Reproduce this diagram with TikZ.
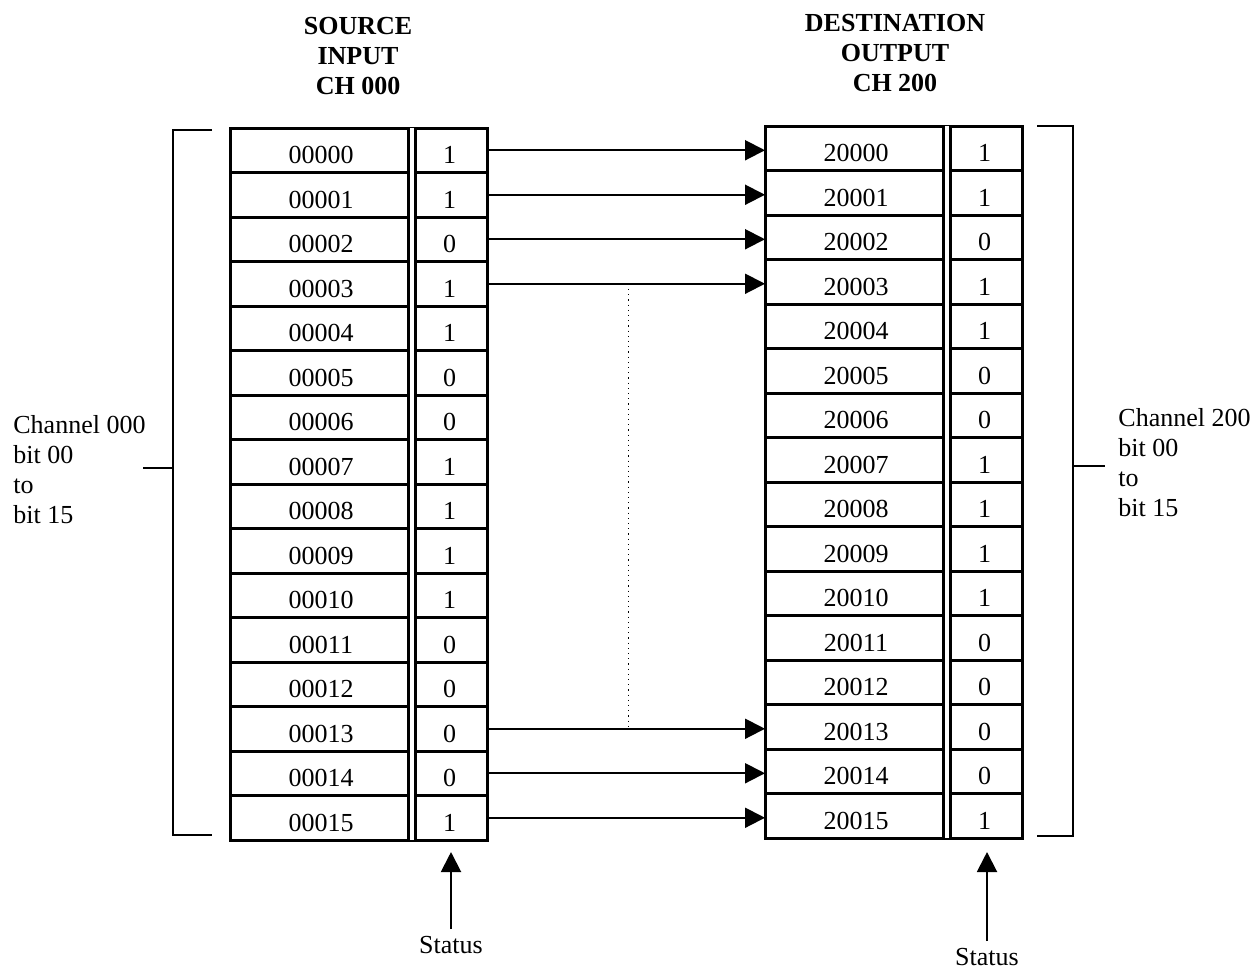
\documentclass[tikz,border=0pt]{standalone}
\usepackage{fontspec}
\setmainfont{Liberation Serif}
\usetikzlibrary{arrows.meta,calc}
\tikzset{
    >={Triangle[length=10pt,width=10pt]},
    addr/.style={rectangle, draw, line width=1.5pt, inner sep=0pt, outer sep=0pt, text height=13.5pt, text depth=0pt, minimum width=91pt, minimum height=22.25pt},
    bitcell/.style={rectangle, draw, line width=1.5pt, inner sep=0pt, outer sep=0pt, text height=13.5pt, text depth=0pt, minimum width=37.5pt, minimum height=22.25pt},
    sep/.style={double, line width=1.3pt, double distance=2.3pt},
    link/.style={->, line width=1pt},
    brace/.style={line width=0.8pt},
    title/.style={align=center, inner sep=0pt, font=\bfseries\fontsize{13}{15.2}\selectfont},
    side/.style={align=left, anchor=west, inner sep=0pt, font=\fontsize{13}{15}\selectfont}
}

\begin{document}
\begin{tikzpicture}[x=0.5pt, y=-0.5pt, font=\fontsize{13}{15.6}\selectfont]
    \useasboundingbox (0,0) rectangle (1251,971);

    % source channel 000
    \node[title] (srctitle) at (358,56) {SOURCE\\INPUT\\CH 000};
    \node[addr] (in00) at (321,150.25) {00000}; \node[bitcell] (ib00) at (449.5,150.25) {1};
    \node[addr] (in01) at (321,194.75) {00001}; \node[bitcell] (ib01) at (449.5,194.75) {1};
    \node[addr] (in02) at (321,239.25) {00002}; \node[bitcell] (ib02) at (449.5,239.25) {0};
    \node[addr] (in03) at (321,283.75) {00003}; \node[bitcell] (ib03) at (449.5,283.75) {1};
    \node[addr] (in04) at (321,328.25) {00004}; \node[bitcell] (ib04) at (449.5,328.25) {1};
    \node[addr] (in05) at (321,372.75) {00005}; \node[bitcell] (ib05) at (449.5,372.75) {0};
    \node[addr] (in06) at (321,417.25) {00006}; \node[bitcell] (ib06) at (449.5,417.25) {0};
    \node[addr] (in07) at (321,461.75) {00007}; \node[bitcell] (ib07) at (449.5,461.75) {1};
    \node[addr] (in08) at (321,506.25) {00008}; \node[bitcell] (ib08) at (449.5,506.25) {1};
    \node[addr] (in09) at (321,550.75) {00009}; \node[bitcell] (ib09) at (449.5,550.75) {1};
    \node[addr] (in10) at (321,595.25) {00010}; \node[bitcell] (ib10) at (449.5,595.25) {1};
    \node[addr] (in11) at (321,639.75) {00011}; \node[bitcell] (ib11) at (449.5,639.75) {0};
    \node[addr] (in12) at (321,684.25) {00012}; \node[bitcell] (ib12) at (449.5,684.25) {0};
    \node[addr] (in13) at (321,728.75) {00013}; \node[bitcell] (ib13) at (449.5,728.75) {0};
    \node[addr] (in14) at (321,773.25) {00014}; \node[bitcell] (ib14) at (449.5,773.25) {0};
    \node[addr] (in15) at (321,817.75) {00015}; \node[bitcell] (ib15) at (449.5,817.75) {1};
    \draw[sep] (in00.north east) -- (in15.south east);

    % destination channel 200
    \node[title] (dsttitle) at (895,53) {DESTINATION\\OUTPUT\\CH 200};
    \node[addr] (out00) at (856,148.25) {20000}; \node[bitcell] (ob00) at (984.5,148.25) {1};
    \node[addr] (out01) at (856,192.75) {20001}; \node[bitcell] (ob01) at (984.5,192.75) {1};
    \node[addr] (out02) at (856,237.25) {20002}; \node[bitcell] (ob02) at (984.5,237.25) {0};
    \node[addr] (out03) at (856,281.75) {20003}; \node[bitcell] (ob03) at (984.5,281.75) {1};
    \node[addr] (out04) at (856,326.25) {20004}; \node[bitcell] (ob04) at (984.5,326.25) {1};
    \node[addr] (out05) at (856,370.75) {20005}; \node[bitcell] (ob05) at (984.5,370.75) {0};
    \node[addr] (out06) at (856,415.25) {20006}; \node[bitcell] (ob06) at (984.5,415.25) {0};
    \node[addr] (out07) at (856,459.75) {20007}; \node[bitcell] (ob07) at (984.5,459.75) {1};
    \node[addr] (out08) at (856,504.25) {20008}; \node[bitcell] (ob08) at (984.5,504.25) {1};
    \node[addr] (out09) at (856,548.75) {20009}; \node[bitcell] (ob09) at (984.5,548.75) {1};
    \node[addr] (out10) at (856,593.25) {20010}; \node[bitcell] (ob10) at (984.5,593.25) {1};
    \node[addr] (out11) at (856,637.75) {20011}; \node[bitcell] (ob11) at (984.5,637.75) {0};
    \node[addr] (out12) at (856,682.25) {20012}; \node[bitcell] (ob12) at (984.5,682.25) {0};
    \node[addr] (out13) at (856,726.75) {20013}; \node[bitcell] (ob13) at (984.5,726.75) {0};
    \node[addr] (out14) at (856,771.25) {20014}; \node[bitcell] (ob14) at (984.5,771.25) {0};
    \node[addr] (out15) at (856,815.75) {20015}; \node[bitcell] (ob15) at (984.5,815.75) {1};
    \draw[sep] (out00.north east) -- (out15.south east);

    % bit transfers
    \draw[link] (ib00.east) -- (ib00.east -| out00.west);
    \draw[link] (ib01.east) -- (ib01.east -| out01.west);
    \draw[link] (ib02.east) -- (ib02.east -| out02.west);
    \draw[link] (ib03.east) -- (ib03.east -| out03.west);
    \draw[link] (ib13.east) -- (ib13.east -| out13.west);
    \draw[link] (ib14.east) -- (ib14.east -| out14.west);
    \draw[link] (ib15.east) -- (ib15.east -| out15.west);
    \coordinate (gapA) at ($(ib03.east)!0.51!(ib03.east -| out03.west)$);
    \coordinate (gapB) at ($(ib13.east)!0.51!(ib13.east -| out13.west)$);
    \draw[dotted, line width=0.6pt] (gapA) -- (gapB);

    % channel brackets
    \draw[brace] (212,130) -- (173,130) -- (173,835) -- (212,835);
    \draw[brace] (173,468) -- (143,468);
    \node[side] (srcch) at (13,470) {Channel 000\\bit 00\\to\\bit 15};
    \draw[brace] (1037,126) -- (1073,126) -- (1073,836) -- (1037,836);
    \draw[brace] (1073,466) -- (1105,466);
    \node[side] (dstch) at (1118,463) {Channel 200\\bit 00\\to\\bit 15};

    % status pointers
    \node (srcst) at (451,945) {Status};
    \node (dstst) at (987,957) {Status};
    \draw[link, shorten >=6pt] (srcst.north) -- (srcst.north |- ib15.south);
    \draw[link, shorten >=7pt] (dstst.north) -- (dstst.north |- ob15.south);
\end{tikzpicture}
\end{document}
